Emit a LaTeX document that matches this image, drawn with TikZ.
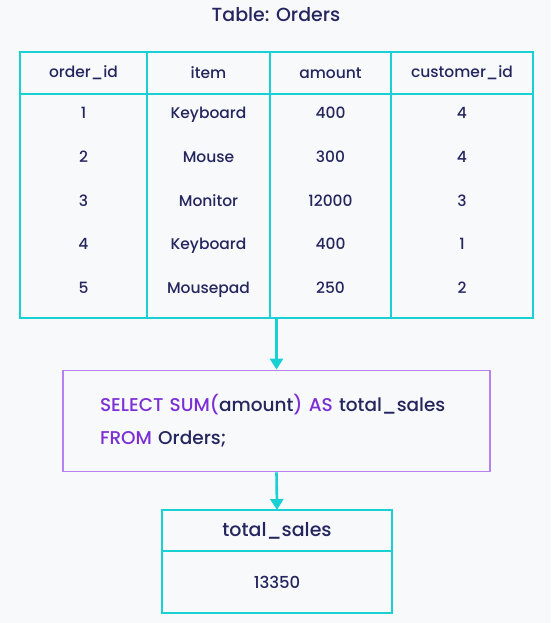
\documentclass[tikz,border=0pt]{standalone}
\usepackage{fontspec}
\setmainfont{Poppins Medium}
\usetikzlibrary{positioning}
\usetikzlibrary{arrows.meta}
\definecolor{bgc}{RGB}{248, 249, 251}
\definecolor{tcyan}{RGB}{25, 208, 212}
\definecolor{qpurple}{RGB}{183, 130, 240}
\definecolor{kw}{RGB}{124, 47, 214}
\definecolor{ink}{RGB}{37, 38, 94}
\tikzstyle{line} = [draw=tcyan, line width=2.6pt, -{Triangle[width=13pt,length=11pt]}]
\tikzstyle{cell} = [draw=tcyan, line width=1.8pt, inner sep=0pt, outer sep=0pt, minimum height=42pt, text=ink, font=\fontsize{15.5}{18}\selectfont]
\tikzstyle{val} = [text=ink, text height=11pt, text depth=0pt, font=\fontsize{15.5}{18}\selectfont]
\tikzstyle{qbox} = [draw=qpurple, line width=1.8pt, text=ink, align=left, text width=353pt, inner xsep=37pt, minimum height=101pt, font=\fontsize{18.5}{33}\selectfont]

\begin{document}
\begin{tikzpicture}[x=1pt, y=-1pt]
  \fill[bgc] (0,0) rectangle (551,623);
  \useasboundingbox (0,0) rectangle (551,623);

  % ============================== Table =======================================

  \node[text=ink, font=\fontsize{19}{22}\selectfont] (title) at (276,15) {Table: Orders};
  \node[cell, minimum width=127pt, anchor=north west] (h1) at (20,52) {order\_id};
  \node[cell, minimum width=123pt, right=0pt of h1] (h2) {item};
  \node[cell, minimum width=121pt, right=0pt of h2] (h3) {amount};
  \node[cell, minimum width=142pt, right=0pt of h3] (h4) {customer\_id};
  \node[cell, minimum width=127pt, minimum height=224pt, below=0pt of h1] (c1) {};
  \node[cell, minimum width=123pt, minimum height=224pt, below=0pt of h2] (c2) {};
  \node[cell, minimum width=121pt, minimum height=224pt, below=0pt of h3] (c3) {};
  \node[cell, minimum width=142pt, minimum height=224pt, below=0pt of h4] (c4) {};

  \node[val] (id1) at (83.5,113) {1};
  \node[val] (it1) at (208.5,113) {Keyboard};
  \node[val] (am1) at (330.5,113) {400};
  \node[val] (cu1) at (462,113) {4};
  \node[val] (id2) at (83.5,157) {2};
  \node[val] (it2) at (208.5,157) {Mouse};
  \node[val] (am2) at (330.5,157) {300};
  \node[val] (cu2) at (462,157) {4};
  \node[val] (id3) at (83.5,201) {3};
  \node[val] (it3) at (208.5,201) {Monitor};
  \node[val] (am3) at (330.5,201) {12000};
  \node[val] (cu3) at (462,201) {3};
  \node[val] (id4) at (83.5,244) {4};
  \node[val] (it4) at (208.5,244) {Keyboard};
  \node[val] (am4) at (330.5,244) {400};
  \node[val] (cu4) at (462,244) {1};
  \node[val] (id5) at (83.5,288) {5};
  \node[val] (it5) at (208.5,288) {Mousepad};
  \node[val] (am5) at (330.5,288) {250};
  \node[val] (cu5) at (462,288) {2};

  % ============================== Query =======================================

  \node[qbox] (qry) at (276.5,421) {\mbox{{\color{kw}SELECT SUM(}amount{\color{kw}) AS} total\_sales}\\
    \mbox{{\color{kw}FROM} Orders;}};

  % ============================== Result ======================================

  \node[cell, minimum width=230pt, minimum height=41pt, font=\fontsize{19}{22}\selectfont, anchor=north] (rh) at (277,510) {total\_sales};
  \node[cell, minimum width=230pt, minimum height=62pt, font=\fontsize{16.5}{20}\selectfont, below=0pt of rh] (rv) {13350};

  % ============================= Connect ======================================
  \path[line] (qry.north |- c3.south) -- (qry.north);
  \path[line] (qry.south) -- (rh.north);

\end{tikzpicture}
\end{document}
